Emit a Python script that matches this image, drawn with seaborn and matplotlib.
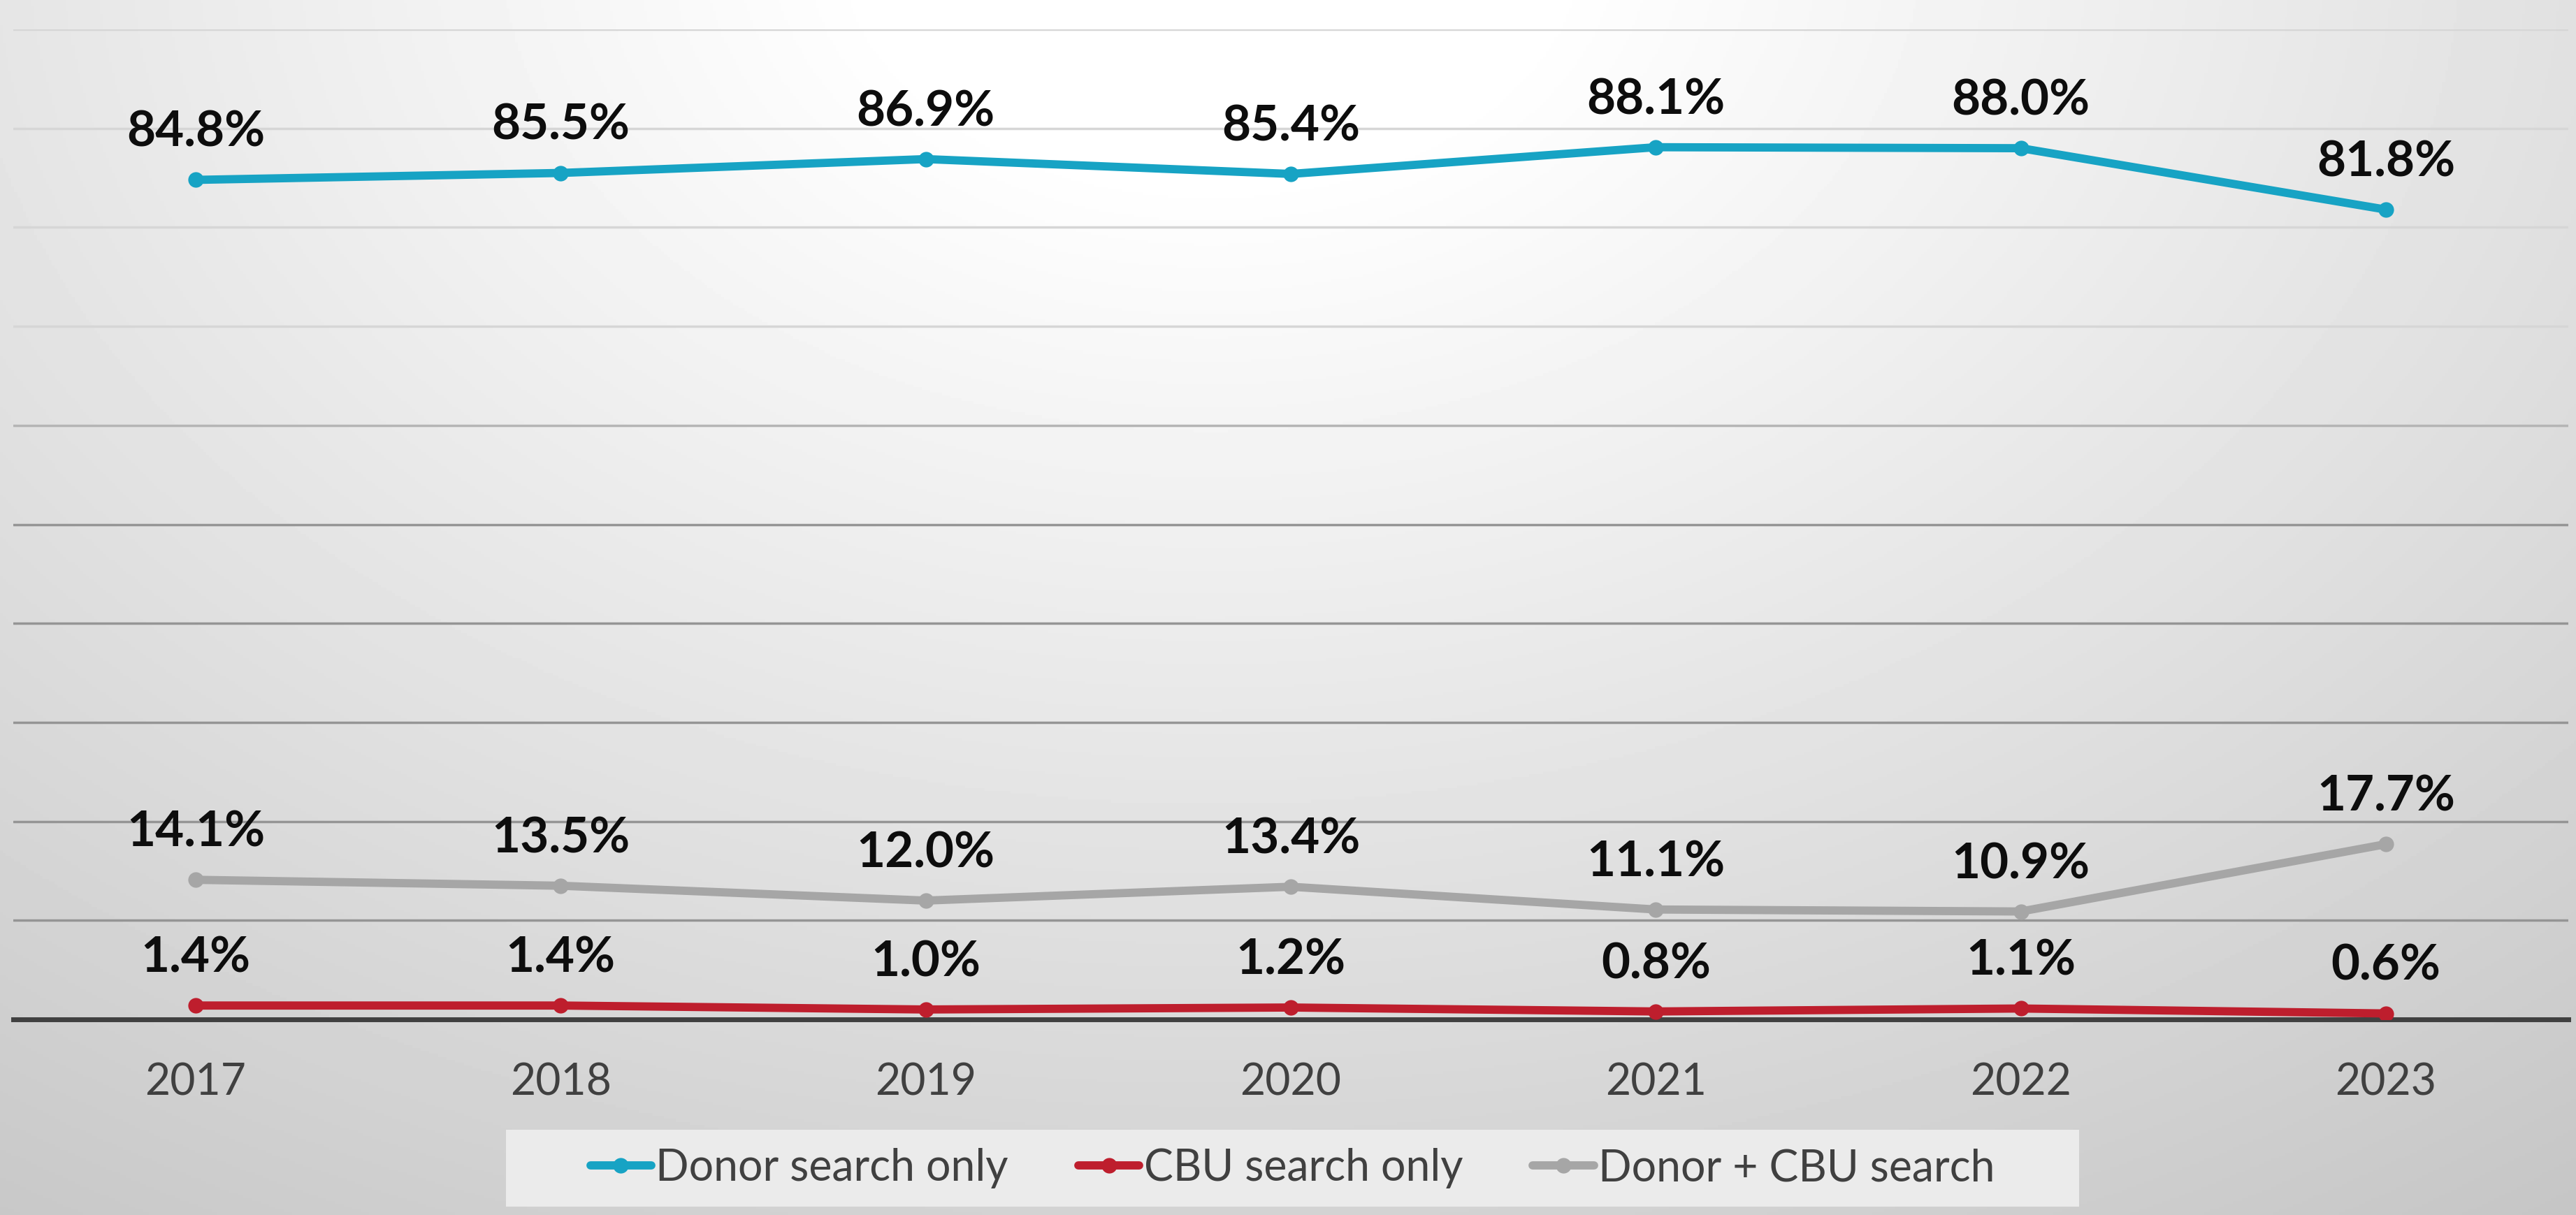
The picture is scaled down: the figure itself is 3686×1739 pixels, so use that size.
import numpy as np
import pandas as pd
import seaborn as sns
import matplotlib.pyplot as plt
from matplotlib.lines import Line2D
from matplotlib.patches import Rectangle

# Datos
anios = [2017, 2018, 2019, 2020, 2021, 2022, 2023]
donor_only = [84.8, 85.5, 86.9, 85.4, 88.1, 88.0, 81.8]
cbu_only = [1.4, 1.4, 1.0, 1.2, 0.8, 1.1, 0.6]
donor_cbu = [14.1, 13.5, 12.0, 13.4, 11.1, 10.9, 17.7]

series = ['Donor search only', 'CBU search only', 'Donor + CBU search']
colores = {'Donor search only': '#17A3C4',
           'CBU search only': '#BE1E2D',
           'Donor + CBU search': '#A6A6A6'}

datos = pd.DataFrame({
    'anio': anios * 3,
    'valor': donor_only + cbu_only + donor_cbu,
    'serie': [series[0]] * 7 + [series[1]] * 7 + [series[2]] * 7,
})

sns.set_style('white')
plt.rcParams['font.family'] = ['Lato', 'DejaVu Sans']

fig = plt.figure(figsize=(36.87, 17.39), dpi=100)

# Fondo con degradado radial (blanco arriba al centro, gris en los bordes)
fondo = fig.add_axes([0, 0, 1, 1], zorder=0)
xx, yy = np.meshgrid(np.linspace(0, 1, 900), np.linspace(0, 1, 430))
d = np.sqrt(((xx - 0.47) / 0.75) ** 2 + ((yy + 0.05) / 1.1) ** 2)
v = (255 - np.clip(57 * d - 10, 0, None)) / 255
fondo.imshow(v, cmap='gray', vmin=0, vmax=1, extent=[0, 1, 0, 1],
             aspect='auto', origin='upper')
fondo.add_patch(Rectangle((0.1964, 0.0068), 0.6104, 0.0635,
                          transform=fondo.transAxes, facecolor='#EBEBEB',
                          edgecolor='none'))
fondo.set_xlim(0, 1)
fondo.set_ylim(0, 1)
fondo.axis('off')

ax = fig.add_axes([0.0051, 0.161, 0.9917, 0.8148], zorder=1)
ax.patch.set_alpha(0)

sns.lineplot(data=datos, x='anio', y='valor', hue='serie', palette=colores,
             marker='o', markersize=16, markeredgewidth=0, linewidth=8.5,
             legend=False, ax=ax, zorder=3)

# Etiquetas de datos
for serie, valores in zip(series, [donor_only, cbu_only, donor_cbu]):
    for x, y in zip(anios, valores):
        ax.annotate(f'{y:.1f}%', (x, y), xytext=(0, 49), textcoords='offset points',
                    ha='center', va='center', fontsize=51, fontweight='bold',
                    color='#0D0D0D', zorder=4)

ax.set_xlim(2016.5, 2023.5)
ax.set_ylim(0, 100)
ax.set_yticks(np.arange(0, 101, 10))
ax.set_xticks(anios)
ax.set_xticklabels([str(a) for a in anios])
ax.set_xlabel('')
ax.set_ylabel('')
ax.tick_params(axis='x', length=0, pad=44, labelsize=45, labelcolor='#404040')
ax.tick_params(axis='y', length=0, labelleft=False)

ax.grid(axis='y', linewidth=2.5)
for valor, linea in zip(np.arange(0, 101, 10), ax.get_ygridlines()):
    if valor >= 70:
        linea.set_color('#D6D6D6')
    elif valor >= 60:
        linea.set_color('#B5B5B5')
    else:
        linea.set_color('#959595')
    if valor == 0:
        linea.set_visible(False)

for lado in ['top', 'left', 'right']:
    ax.spines[lado].set_visible(False)
ax.spines['bottom'].set_color('#404040')
ax.spines['bottom'].set_linewidth(5)
ax.spines['bottom'].set_zorder(2)

manijas = [Line2D([0], [0], color=colores[s], linewidth=8.5, marker='o',
                  markersize=16, markeredgewidth=0) for s in series]
leyenda = fig.legend(manijas, series, loc='center', bbox_to_anchor=(0.5016, 0.0385),
                     ncol=3, frameon=False, fontsize=45, handlelength=1.4,
                     handletextpad=0.1, columnspacing=1.6)
for t in leyenda.get_texts():
    t.set_color('#404040')

fig.savefig('out.png', dpi=100)
